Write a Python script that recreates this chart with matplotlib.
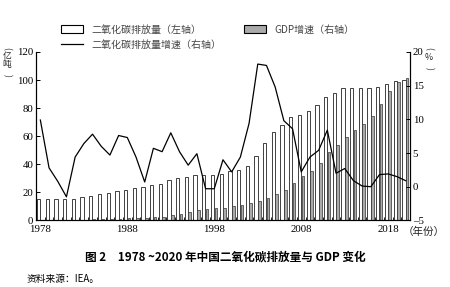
import matplotlib
matplotlib.use("Agg")
import matplotlib.pyplot as plt
from matplotlib.patches import Patch
from matplotlib.lines import Line2D
import numpy as np

CJK = ["Noto Sans CJK SC", "DejaVu Sans"]
SERIF = ["Liberation Serif", "DejaVu Serif"]

years = list(range(1978, 2021))

# 二氧化碳排放量（亿吨），左轴
co2 = [15, 15, 15.5, 15, 15.5, 16.5, 17.5, 18.5, 19.5, 21, 22, 23, 24, 25,
       26, 28.5, 30, 31, 32, 32.5, 32, 33, 35, 36, 39, 46, 55, 63, 68, 74,
       75, 78, 82, 88, 91, 94, 94, 94, 94, 95, 97, 99, 100]

# 灰色柱（按图读数，左轴刻度）
gdp = [0.4, 0.4, 0.5, 0.5, 0.5, 0.6, 0.7, 0.9, 1.0, 1.2, 1.5, 1.7, 1.9, 2.2,
       2.7, 3.6, 4.9, 6.1, 7.2, 8.0, 8.5, 9.1, 10.0, 11.1, 12.2, 13.7, 16.2,
       18.7, 21.9, 27.0, 31.9, 34.9, 41.2, 48.8, 53.9, 59.3, 64.4, 68.9,
       74.6, 83.2, 91.9, 98.7, 101.6]

# 二氧化碳排放量增速（%），右轴
co2_growth = [9.9, 2.8, 0.8, -1.5, 4.4, 6.4, 7.8, 6.0, 4.7, 7.6, 7.3, 4.4,
              0.7, 5.7, 5.2, 8.0, 5.2, 3.2, 4.9, -0.3, -0.3, 4.0, 2.2, 4.4,
              9.4, 18.2, 18.0, 14.8, 9.8, 8.6, 2.2, 4.4, 5.4, 8.4, 2.0, 2.7,
              0.9, 0.1, 0.0, 1.8, 1.9, 1.5, 0.9]

x = np.array(years)

fig = plt.figure(figsize=(4.5, 2.87), dpi=100)
ax = fig.add_axes([0.08, 0.232, 0.831, 0.587])
ax2 = ax.twinx()

ax.bar(x - 0.2, co2, width=0.38, color="white", edgecolor="#222222", linewidth=0.6, zorder=2)
ax.bar(x + 0.18, gdp, width=0.3, color="#aaaaaa", edgecolor="#333333", linewidth=0.5, zorder=2)
ax2.plot(x, co2_growth, color="black", linewidth=0.9)

ax.set_xlim(1977.5, 2020.5)
ax.set_ylim(0, 120)
ax2.set_ylim(-5, 20)

ax.set_xticks([1978, 1988, 1998, 2008, 2018])
ax.set_xticks(np.arange(1977.5, 2021, 1), minor=True)
ax.set_yticks(range(0, 121, 20))
ax2.set_yticks(range(-5, 21, 5))
ax2.set_yticklabels(["–5", "0", "5", "10", "15", "20"])

for a in (ax, ax2):
    a.spines["top"].set_visible(False)
    a.spines[["left", "right", "bottom"]].set_linewidth(0.8)
    a.tick_params(direction="in", length=3, width=0.7, labelsize=7.8, pad=2)
    for lab in a.get_xticklabels() + a.get_yticklabels():
        lab.set_family(SERIF)
ax.tick_params(axis="x", which="major", length=0, pad=3)
ax.tick_params(axis="x", which="minor", direction="in", length=2, width=0.6)

# 轴标题（竖排）
def vlabel(xf, parts, ys):
    for ch, yf in zip(parts, ys):
        rot = 270 if ch in "()" else 0
        fig.text(xf, yf, ch, family=CJK, fontsize=6.3, ha="center",
                 va="center", rotation=rot, color="#222222")

vlabel(7 / 450, ["(", "亿", "吨", ")"],
       [1 - 48 / 287, 1 - 57 / 287, 1 - 65 / 287, 1 - 75 / 287])
vlabel(429 / 450, ["(", "%", ")"],
       [1 - 48 / 287, 1 - 58 / 287, 1 - 68 / 287])
fig.text(403 / 450, 1 - 232 / 287, "（年份）", family=CJK, fontsize=7.6,
         ha="left", va="center", color="#222222")

handles = [Patch(facecolor="white", edgecolor="black", linewidth=0.8),
           Line2D([], [], color="black", linewidth=0.9),
           Patch(facecolor="#aaaaaa", edgecolor="black", linewidth=0.8)]
labels = ["二氧化碳排放量（左轴）", "二氧化碳排放量增速（右轴）", "GDP增速（右轴）"]
leg = fig.legend(handles, labels, ncol=2, loc="upper left",
                 bbox_to_anchor=(0.115, 0.945), frameon=False,
                 prop={"family": CJK, "size": 7.2}, handlelength=2.2,
                 handleheight=0.9, handletextpad=0.9, columnspacing=2.2,
                 labelspacing=0.5)
for t in leg.get_texts():
    t.set_color("#444444")

fig.text(0.5, 1 - 257 / 287, "图 2　1978 ~2020 年中国二氧化碳排放量与 GDP 变化",
         family=CJK, fontsize=8.4, fontweight="bold", ha="center", va="center")
fig.text(27 / 450, 1 - 279 / 287, "资料来源：IEA。", family=CJK, fontsize=7,
         ha="left", va="center")

fig.savefig("out.png", dpi=100)
